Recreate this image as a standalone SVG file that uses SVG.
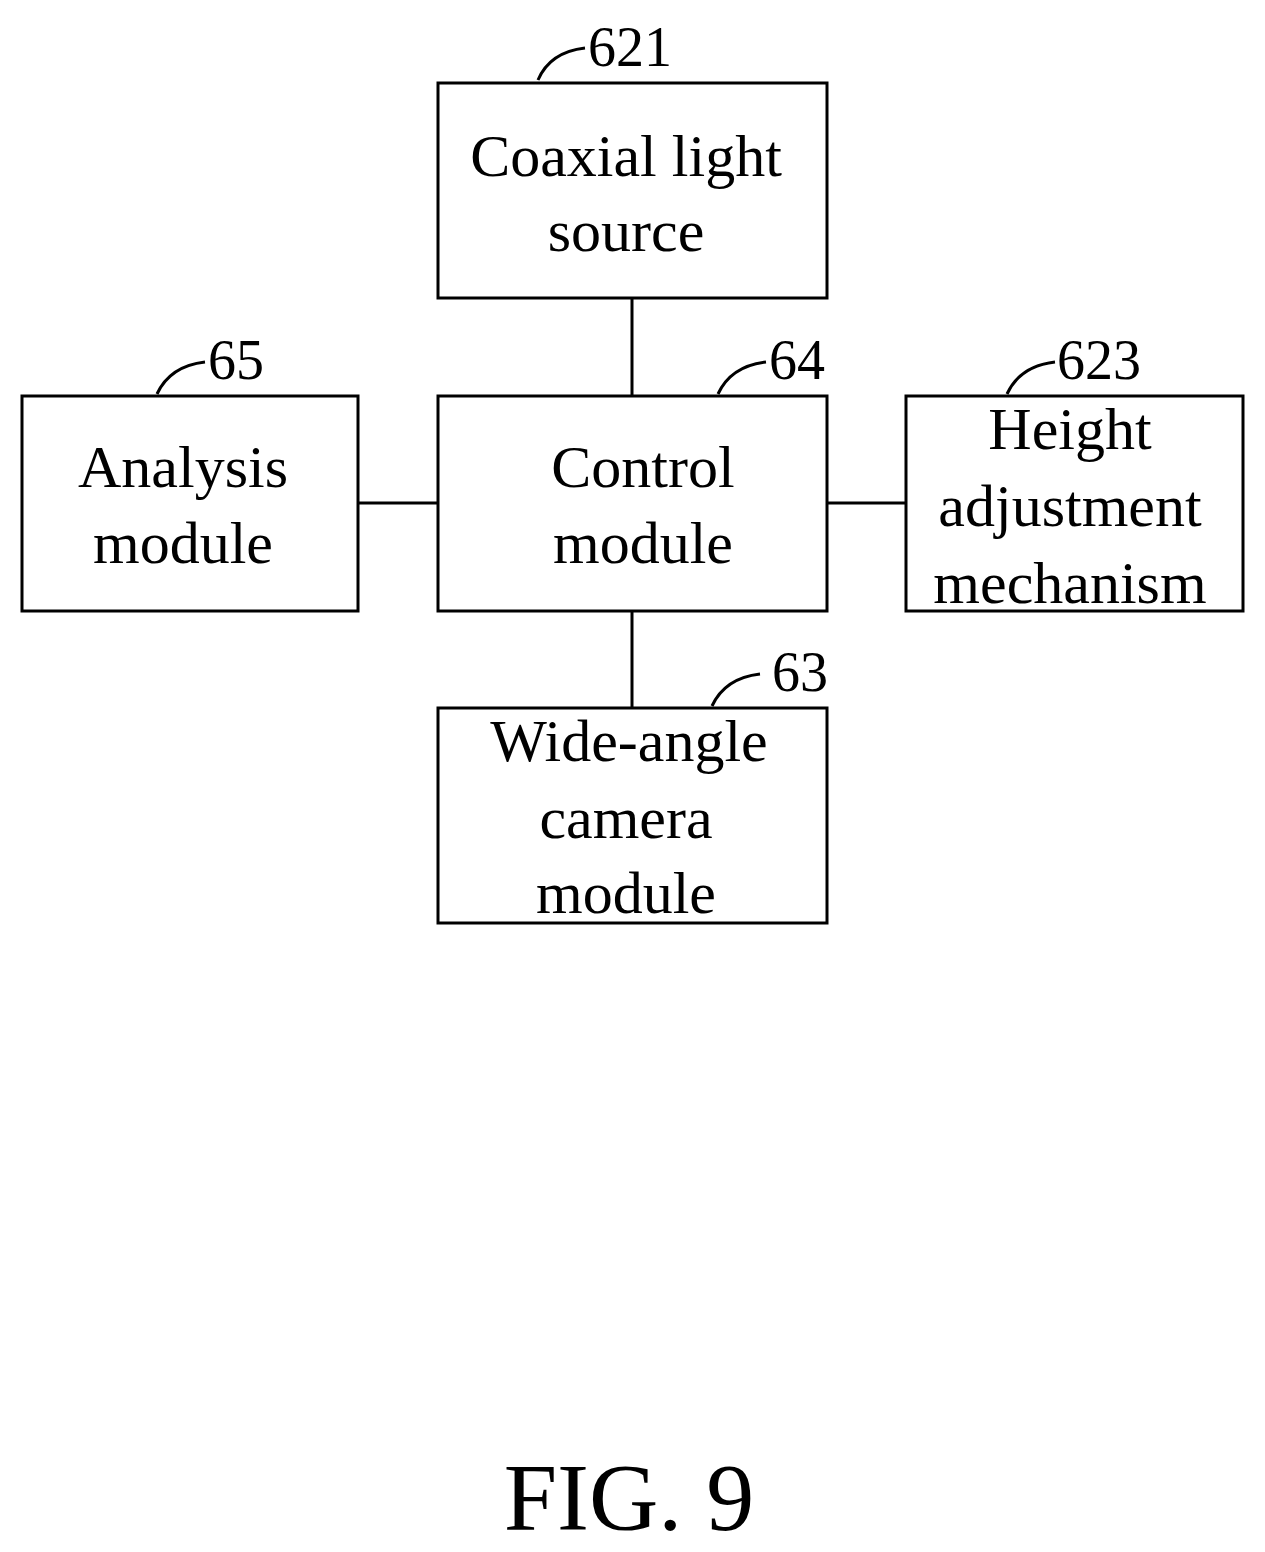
<svg xmlns="http://www.w3.org/2000/svg" width="1265" height="1552" viewBox="0 0 1265 1552">
<style>
rect{fill:#fff;stroke:#000;stroke-width:3}
line,path{stroke:#000;stroke-width:3;fill:none}
text{font-family:"Liberation Serif",serif;font-size:60px;text-anchor:middle;fill:#000}
.n{text-anchor:start;font-size:56px}
</style>
<rect width="1265" height="1552" style="stroke:none"/>
<g id="connectors">
<line x1="632" y1="298" x2="632" y2="396"/>
<line x1="358" y1="503" x2="438" y2="503"/>
<line x1="827" y1="503" x2="906" y2="503"/>
<line x1="632" y1="611" x2="632" y2="708"/>
</g>
<g id="n621"><rect x="438" y="83" width="389" height="215"/>
<text x="626" y="176">Coaxial light</text><text x="626" y="251">source</text>
<path d="M538 80 Q550 52 585 48"/><text class="n" x="588" y="66">621</text></g>
<g id="n65"><rect x="22" y="396" width="336" height="215"/>
<text x="183" y="487">Analysis</text><text x="183" y="563">module</text>
<path d="M157 394 Q170 366 205 362"/><text class="n" x="208" y="379">65</text></g>
<g id="n64"><rect x="438" y="396" width="389" height="215"/>
<text x="643" y="487">Control</text><text x="643" y="563">module</text>
<path d="M718 394 Q731 366 766 362"/><text class="n" x="769" y="379">64</text></g>
<g id="n623"><rect x="906" y="396" width="337" height="215"/>
<text x="1070" y="449">Height</text><text x="1070" y="526">adjustment</text><text x="1070" y="603">mechanism</text>
<path d="M1007 394 Q1020 366 1055 362"/><text class="n" x="1057" y="379">623</text></g>
<g id="n63"><rect x="438" y="708" width="389" height="215"/>
<text x="629" y="761">Wide-angle</text><text x="626" y="838">camera</text><text x="626" y="913">module</text>
<path d="M712 706 Q725 678 760 674"/><text class="n" x="772" y="691">63</text></g>
<text x="629" y="1530" style="font-size:96px">FIG. 9</text>
</svg>
